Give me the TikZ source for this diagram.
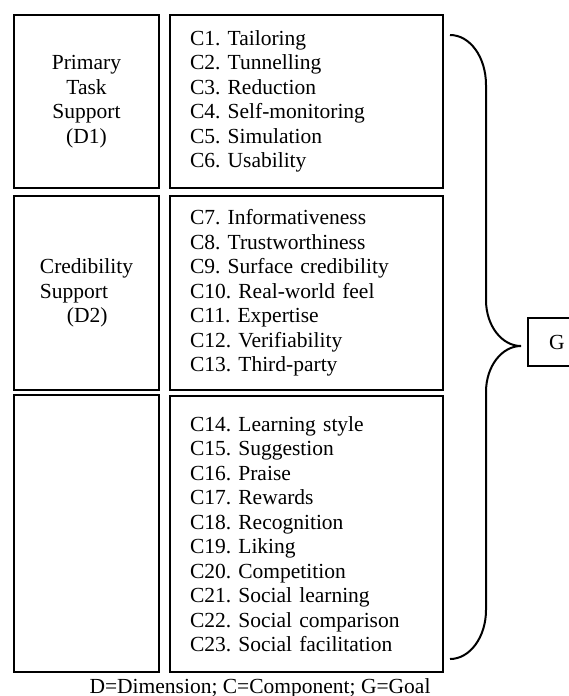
\documentclass[tikz,border=0pt]{standalone}
\usepackage{fontspec}
\setmainfont{Liberation Serif}
\usetikzlibrary{positioning}

\begin{document}
\frenchspacing
\begin{tikzpicture}[x=0.5pt, y=-0.5pt,
  font=\fontsize{10.75}{12.25}\selectfont,
  dimbox/.style={draw, line width=1pt, minimum width=72.5pt, align=center, inner sep=0pt},
  compbox/.style={draw, line width=1pt, text width=116.5pt, align=left, inner xsep=10pt, inner ysep=0pt},
  bracepath/.style={line width=1pt},
]
\useasboundingbox (0,0) rectangle (568,696);

% dimensions (left column)
\node[dimbox, minimum height=86.5pt] (d1) at (86.5,101.5) {Primary\\Task\\Support\\(D1)};
\node[dimbox, minimum height=97pt, align=left] (d2) at (86.5,293) {Credibility\\Support\\\hspace*{13.5pt}(D2)};
\node[dimbox, minimum height=138.5pt] (d3) at (86.5,533.5) {};

% components (right column)
\node[compbox, minimum height=86.5pt] (c1) at (306.5,101.5)
  {C1. Tailoring\\C2. Tunnelling\\C3. Reduction\\C4. Self-monitoring\\C5. Simulation\\C6. Usability};
\node[compbox, minimum height=97pt] (c2) at (306.5,293)
  {C7. Informativeness\\C8. Trustworthiness\\C9. Surface credibility\\C10. Real-world feel\\C11. Expertise\\C12. Verifiability\\C13. Third-party};
\node[compbox, minimum height=138pt] (c3) at (306.5,534)
  {C14. Learning style\\C15. Suggestion\\C16. Praise\\C17. Rewards\\C18. Recognition\\C19. Liking\\C20. Competition\\C21. Social learning\\C22. Social comparison\\C23. Social facilitation};

% goal
\node[draw, line width=1pt, minimum width=29pt, minimum height=24pt] (g) at (557,342) {G};
\coordinate (tip) at ([xshift=-3pt, yshift=-2pt]g.west);

% brace
\draw[bracepath] (450,35) .. controls (470,35) and (486,57) .. (486,85)
  -- (486,300) .. controls (486,326) and (502,346) .. (tip)
  .. controls (502,346) and (486,366) .. (486,392)
  -- (486,610) .. controls (486,637) and (470,659) .. (450,659);

\node (note) at (260,688) {D=Dimension; C=Component; G=Goal};
\end{tikzpicture}
\end{document}
